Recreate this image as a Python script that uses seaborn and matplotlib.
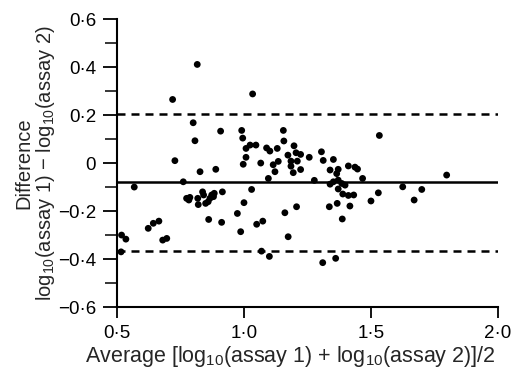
import matplotlib
matplotlib.use('Agg')
import matplotlib.pyplot as plt
from matplotlib.ticker import MultipleLocator, FuncFormatter
import seaborn as sns
import pandas as pd

# average of the two log10 assays (x) and their difference (y)
avg_log = [
    0.719, 0.816, 0.800, 0.807, 0.908, 0.728, 0.827, 0.889, 1.034, 0.991,
    0.995, 1.008, 1.024, 1.047, 1.008, 0.997, 1.066, 1.089, 1.102, 1.131,
    1.155, 1.157, 1.173, 1.135, 1.115, 1.122, 1.096, 1.197, 1.205, 1.223,
    1.257, 1.305, 1.312, 1.352, 1.185, 1.210, 1.185, 1.223, 1.194, 1.533,
    1.411, 1.437, 1.447, 1.339, 1.371, 1.365, 1.798, 1.467, 1.277, 1.339,
    1.352, 1.385, 1.398, 1.371, 1.389, 1.411, 1.432, 1.529, 1.500, 1.625,
    1.700, 1.670, 1.161, 1.207, 1.336, 1.367, 1.417, 1.387, 1.174, 1.310,
    1.361, 0.516, 0.518, 0.535, 0.568, 0.623, 0.643, 0.665, 0.680, 0.696,
    0.761, 0.774, 0.783, 0.787, 0.818, 0.820, 0.837, 0.841, 0.849, 0.859,
    0.866, 0.873, 0.880, 0.883, 0.915, 0.861, 0.912, 0.974, 1.000, 1.030,
    0.987, 1.050, 1.074, 1.069, 1.100, 1.371,
]
diff_log = [
    0.265, 0.411, 0.168, 0.093, 0.133, 0.010, -0.036, -0.026, 0.288, 0.136,
    0.104, 0.061, 0.075, 0.075, 0.024, -0.005, 0.000, 0.063, 0.050, 0.061,
    0.136, 0.092, 0.033, 0.007, -0.007, -0.036, -0.064, 0.072, 0.043, 0.036,
    0.024, 0.047, 0.011, 0.015, 0.008, 0.008, -0.013, -0.027, -0.040, 0.115,
    -0.012, -0.017, -0.025, -0.029, -0.026, -0.044, -0.050, -0.064, -0.072, -0.088,
    -0.078, -0.085, -0.092, -0.108, -0.129, -0.135, -0.133, -0.124, -0.158, -0.099,
    -0.110, -0.154, -0.207, -0.182, -0.182, -0.168, -0.179, -0.233, -0.307, -0.415,
    -0.397, -0.370, -0.300, -0.317, -0.100, -0.272, -0.251, -0.242, -0.321, -0.314,
    -0.078, -0.147, -0.154, -0.143, -0.147, -0.173, -0.120, -0.133, -0.168, -0.161,
    -0.147, -0.133, -0.140, -0.126, -0.120, -0.235, -0.247, -0.210, -0.165, -0.110,
    -0.286, -0.255, -0.242, -0.367, -0.389, -0.071,
]

mean_diff = -0.08
upper_limit = 0.205
lower_limit = -0.365

df = pd.DataFrame({'avg': avg_log, 'diff': diff_log})

sns.set_style('ticks')
plt.rcParams['font.family'] = ['Liberation Sans', 'DejaVu Sans']
plt.rcParams['mathtext.fontset'] = 'custom'
plt.rcParams['mathtext.rm'] = 'Liberation Sans'
plt.rcParams['mathtext.it'] = 'Liberation Sans'

fig = plt.figure(figsize=(5.14, 3.74), dpi=100)
ax = fig.add_axes([0.2276, 0.179, 0.7412, 0.770])

sns.scatterplot(data=df, x='avg', y='diff', color='black', s=24,
                edgecolor='none', ax=ax, zorder=3)

ax.axhline(mean_diff, color='black', lw=1.8)
ax.axhline(upper_limit, color='black', lw=1.8, ls=(0, (3.2, 2.4)))
ax.axhline(lower_limit, color='black', lw=1.8, ls=(0, (3.2, 2.4)))

ax.set_xlim(0.5, 2.0)
ax.set_ylim(-0.6, 0.6)
ax.xaxis.set_major_locator(MultipleLocator(0.5))
ax.yaxis.set_major_locator(MultipleLocator(0.2))
ax.yaxis.set_minor_locator(MultipleLocator(0.1))


def dot_fmt(v, pos):
    if abs(v) < 1e-9:
        return '0'
    return '{:.1f}'.format(v).replace('.', '\u00b7').replace('-', '\u2212')


ax.xaxis.set_major_formatter(FuncFormatter(dot_fmt))
ax.yaxis.set_major_formatter(FuncFormatter(dot_fmt))

sns.despine(ax=ax)
for side in ['left', 'bottom']:
    ax.spines[side].set_linewidth(1.5)
    ax.spines[side].set_color('black')
ax.tick_params(axis='both', which='major', length=10, width=1.3,
               labelsize=13.5, colors='black')
ax.tick_params(axis='y', which='minor', length=8.5, width=1.1, colors='black')
ax.tick_params(axis='x', which='major', length=8, pad=5)
ax.tick_params(axis='y', which='major', pad=5)

ax.set_xlabel('Average [log$_{10}$(assay 1) + log$_{10}$(assay 2)]/2',
              fontsize=15.5)
ax.xaxis.set_label_coords(0.454, -0.128)
ax.set_ylabel('Difference\nlog$_{10}$(assay 1) \u2212 log$_{10}$(assay 2)',
              fontsize=14.5, labelpad=1, linespacing=1.0)

fig.savefig('out.png', dpi=100)
